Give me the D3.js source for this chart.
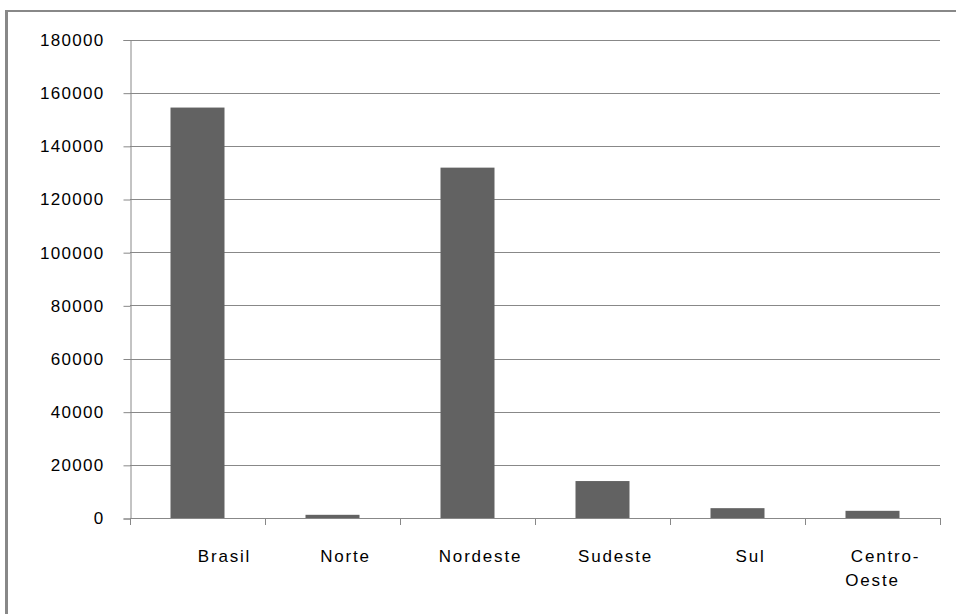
<!DOCTYPE html>
<html><head><meta charset="utf-8">
<script src="https://cdn.jsdelivr.net/npm/d3@7"></script>
<style>
html,body{margin:0;padding:0;background:#fff;}
svg{display:block;}
text{font-family:"Liberation Sans",Arial,sans-serif;font-size:17px;fill:#000;letter-spacing:1.3px;}
</style></head>
<body>
<svg id="chart" width="956" height="614"></svg>
<script>
const categories = ["Brasil", "Norte", "Nordeste", "Sudeste", "Sul", "Centro-Oeste"];
const categoryLines = [["Brasil"], ["Norte"], ["Nordeste"], ["Sudeste"], ["Sul"], ["Centro-", "Oeste"]];
const values = [154400, 1200, 131800, 13900, 3700, 2700];
const yTicks = [0, 20000, 40000, 60000, 80000, 100000, 120000, 140000, 160000, 180000];

(function () {
const svg = d3.select("#chart");
const pLeft = 130, pRight = 940, pTop = 39.5, pBottom = 518;

// outer border
svg.append("line").attr("x1", 6.5).attr("x2", 6.5).attr("y1", 10).attr("y2", 614)
  .attr("stroke", "#888").attr("stroke-width", 3);
svg.append("line").attr("x1", 5).attr("x2", 956).attr("y1", 11).attr("y2", 11)
  .attr("stroke", "#888").attr("stroke-width", 2);

const x = d3.scaleBand().domain(categories).range([pLeft, pRight]).paddingInner(0).paddingOuter(0);
const y = d3.scaleLinear().domain([0, 180000]).range([pBottom, pTop]);

// gridlines
svg.append("g").selectAll("line").data(yTicks.filter(d => d > 0)).join("line")
  .attr("x1", pLeft).attr("x2", pRight)
  .attr("y1", d => Math.round(y(d)) + 0.5).attr("y2", d => Math.round(y(d)) + 0.5)
  .attr("stroke", "#888").attr("stroke-width", 1);

// y axis
const yAxis = d3.axisLeft(y).tickValues(yTicks).tickSize(7).tickPadding(19).tickFormat(d3.format("d"));
const gy = svg.append("g").attr("transform", `translate(${pLeft + 0.5},0.5)`).call(yAxis);
gy.select(".domain").attr("stroke", "#888");
gy.selectAll(".tick line").attr("stroke", "#888");
gy.selectAll(".tick text").attr("fill", "#000").style("font-size", "17px")
  .style("font-family", '"Liberation Sans",Arial,sans-serif').style("letter-spacing", "1.3px");

// x axis line + ticks at band boundaries
svg.append("line").attr("x1", pLeft).attr("x2", pRight).attr("y1", pBottom + 0.5).attr("y2", pBottom + 0.5)
  .attr("stroke", "#888");
const bounds = categories.map(c => x(c)).concat([x(categories[categories.length - 1]) + x.bandwidth()]);
svg.append("g").selectAll("line").data(bounds).join("line")
  .attr("x1", d => Math.round(d) + 0.5).attr("x2", d => Math.round(d) + 0.5)
  .attr("y1", pBottom).attr("y2", pBottom + 7)
  .attr("stroke", "#888");

// bars
const bw = x.bandwidth() * 0.4;
svg.append("g").selectAll("rect").data(values).join("rect")
  .attr("x", (d, i) => x(categories[i]) + (x.bandwidth() - bw) / 2)
  .attr("width", bw)
  .attr("y", d => y(d))
  .attr("height", d => y(0) - y(d))
  .attr("fill", "#626262");

// category labels
const lab = svg.append("g");
categoryLines.forEach((lines, i) => {
  const cx = x(categories[i]) + x.bandwidth() / 2;
  lines.forEach((t, j) => {
    let dx = i === 0 ? 27 : 13;
    if (j > 0) dx = 0;
    lab.append("text").attr("x", cx + dx).attr("y", 561.5 + j * 24)
      .attr("text-anchor", "middle").style("letter-spacing", "1.8px").text(t);
  });
});
})();
</script>
</body></html>
